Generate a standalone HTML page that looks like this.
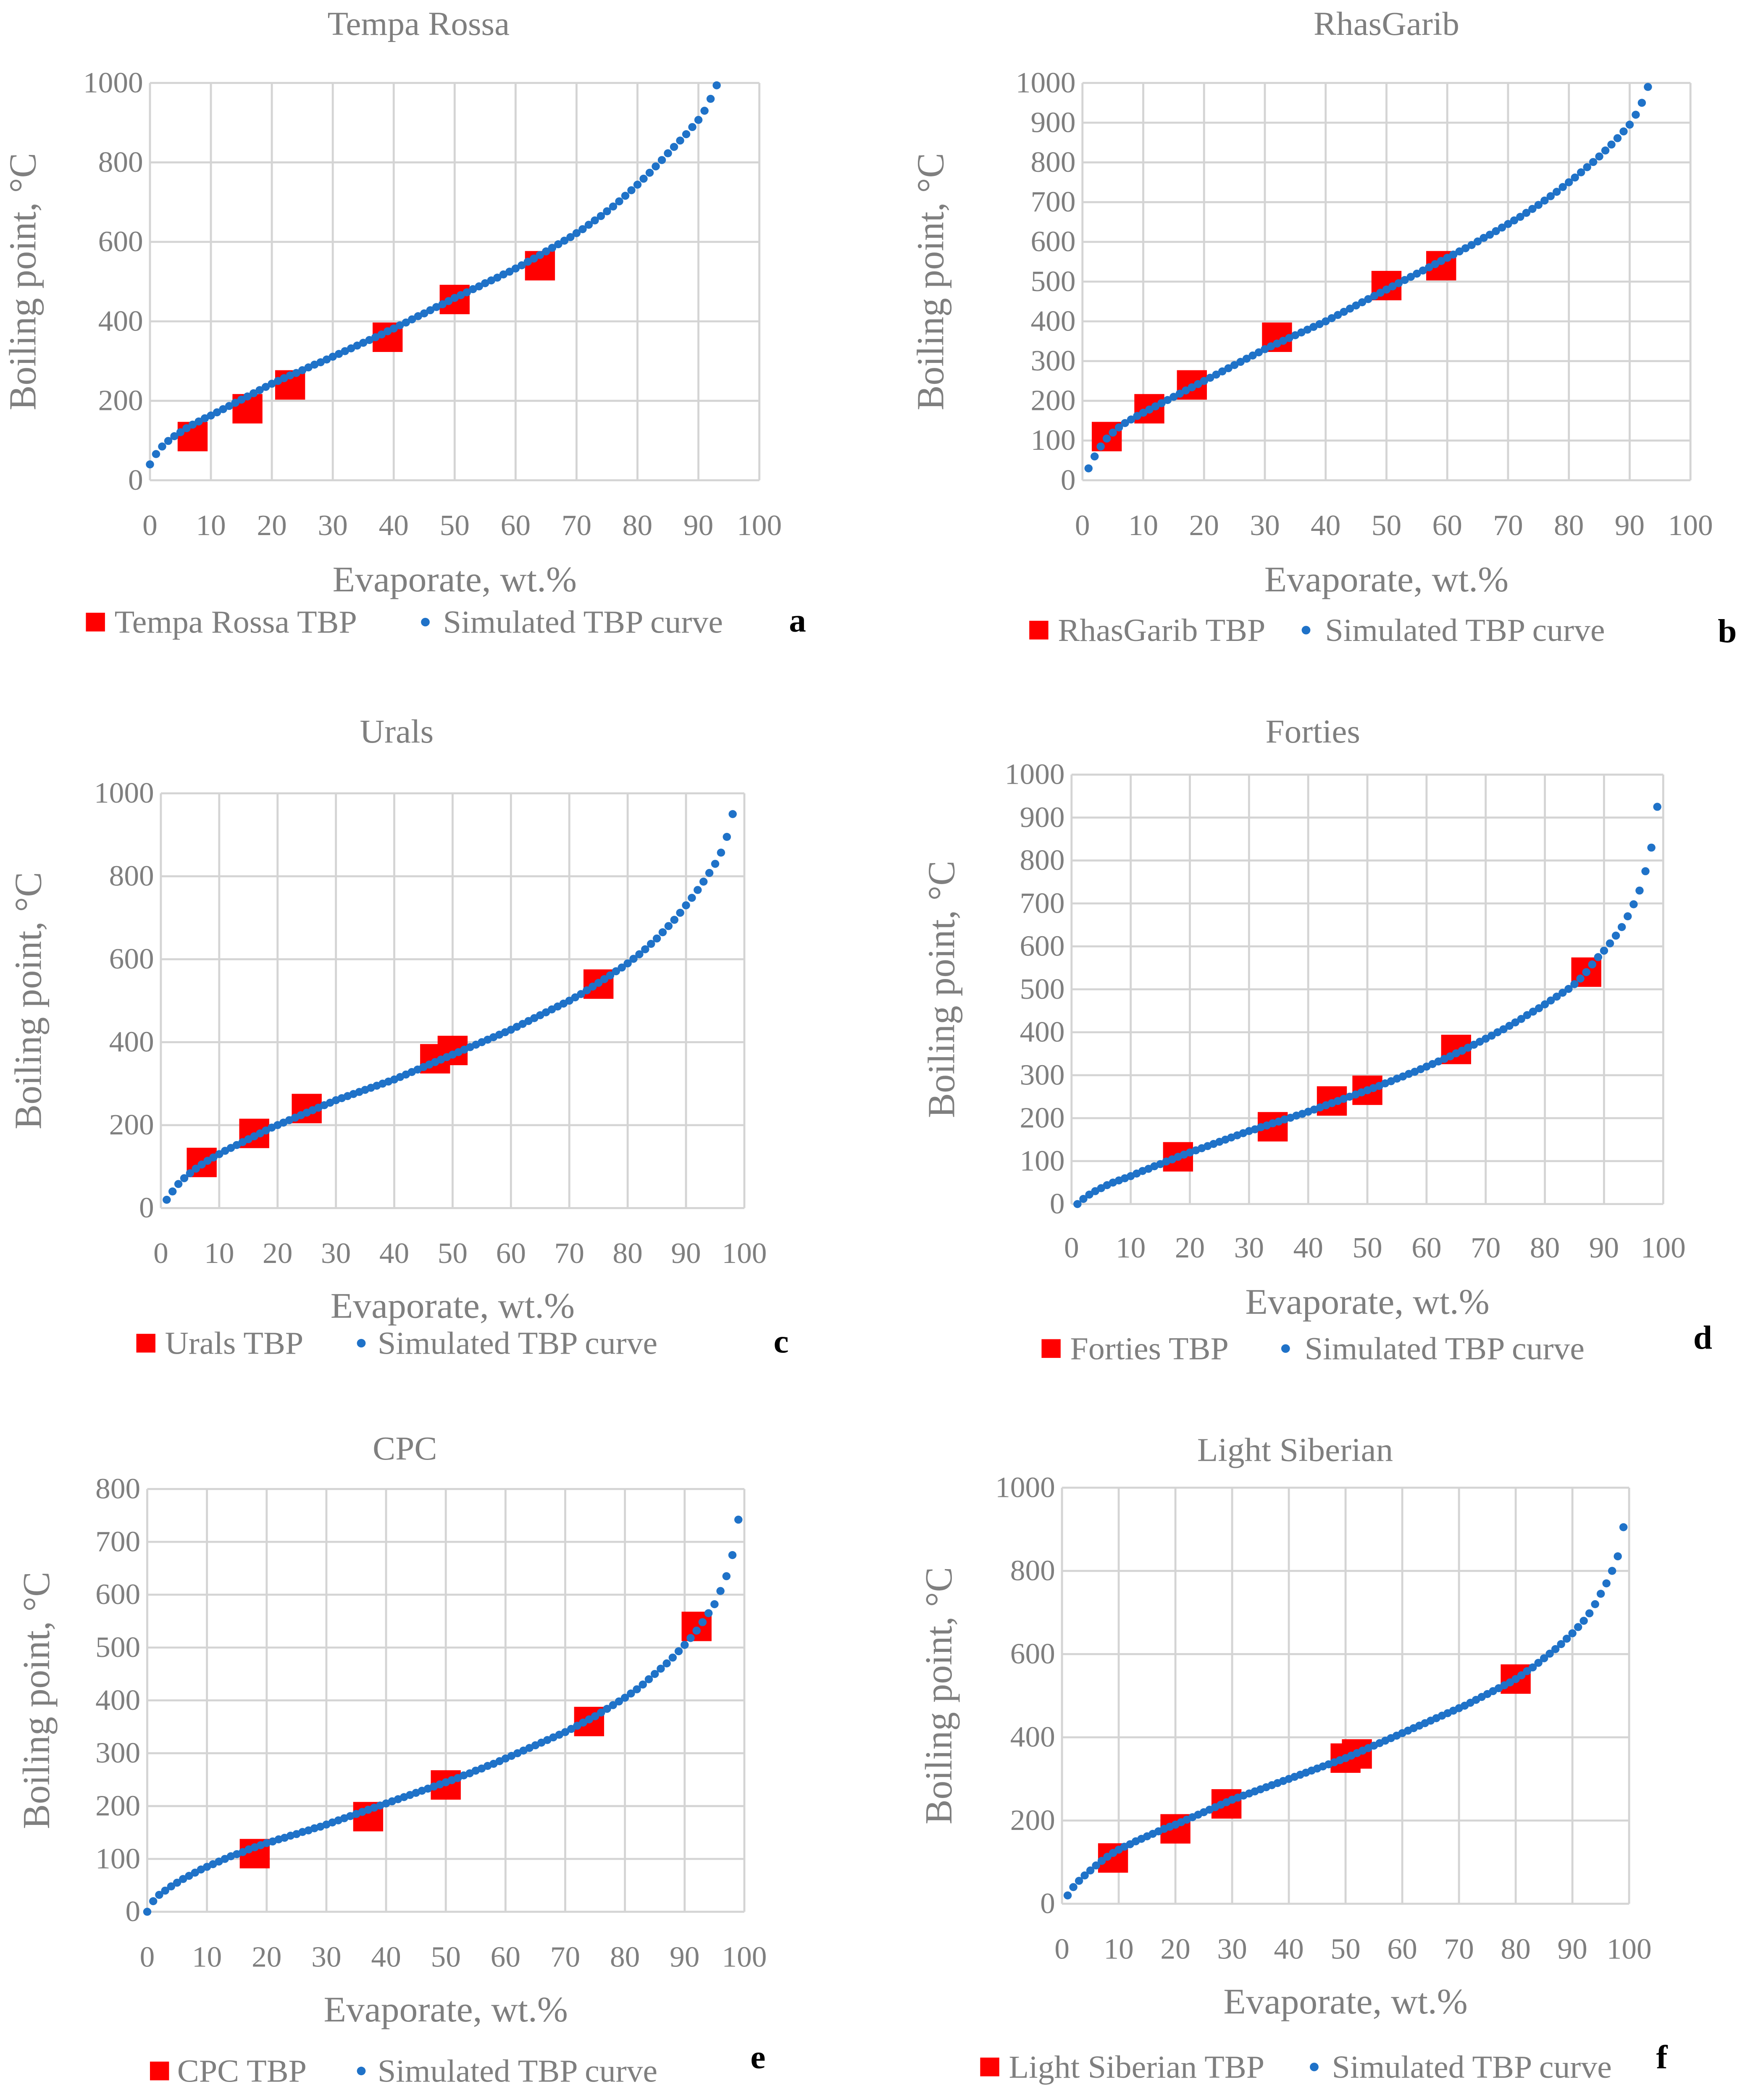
<!DOCTYPE html>
<html><head><meta charset="utf-8"><title>TBP curves</title>
<style>
html,body{margin:0;padding:0;background:#fff;width:100%;height:100%;overflow:hidden;}
svg{display:block;position:fixed;left:0;top:0;width:100vw;height:100vh;}
text{font-family:"Liberation Serif",serif;fill:#7f7f7f;}
</style></head>
<body>
<svg id="fig" xmlns="http://www.w3.org/2000/svg" viewBox="0 0 1280 1569.7" preserveAspectRatio="none"></svg>
<script>
// ---- data ----
const aTbpX=[7,16,23,39,50,64];
const aTbpY=[110,180,240,360,455,540];
const aSimX0=0;
const aSimY=[40,66,85,99,111,121,131,140,148,156,163,171,179,187,195,203,211,219,227,235,243,250,257,264,270,277,284,291,297,304,311,318,325,332,339,346,353,360,367,375,382,390,397,405,413,420,428,436,443,451,459,466,473,481,488,496,503,510,518,525,533,541,550,558,567,576,585,594,603,612,622,632,643,654,665,677,689,702,716,730,744,759,774,790,806,823,839,855,871,889,907,930,960,994];

const bTbpX=[4,11,18,32,50,59];
const bTbpY=[110,180,240,360,490,540];
const bSimX0=1;
const bSimY=[30,60,85,105,120,133,144,153,162,170,178,186,194,202,210,218,226,234,242,250,258,266,274,282,290,298,306,314,322,330,337,344,351,358,365,372,379,386,393,400,408,416,424,432,440,448,456,464,472,480,488,496,504,512,520,528,536,544,552,560,568,576,584,592,601,610,618,627,636,645,654,663,673,683,693,704,715,726,738,750,762,775,788,801,815,830,845,861,878,895,920,950,990];

const cTbpX=[7,16,25,47,50,75];
const cTbpY=[110,180,240,360,380,540];
const cSimX0=1;
const cSimY=[20,40,58,72,84,95,105,114,122,130,138,145,152,159,166,173,180,187,194,200,206,212,218,224,230,236,242,248,254,260,265,270,275,280,285,290,295,300,305,310,316,322,328,334,340,346,352,358,364,370,376,382,388,394,400,406,412,418,424,430,437,444,451,458,465,472,479,486,493,500,508,516,525,534,543,552,561,571,580,590,601,612,624,637,650,665,680,695,712,730,748,767,787,808,830,857,895,950];

const dTbpX=[18,34,44,50,65,87];
const dTbpY=[110,180,240,265,360,540];
const dSimX0=1;
const dSimY=[0,12,22,30,37,44,50,55,60,65,71,77,82,88,93,99,104,110,115,120,125,130,135,140,145,150,155,160,165,170,174,179,183,188,192,197,201,206,210,215,220,225,230,235,240,245,250,255,260,265,270,275,281,286,292,297,303,308,314,320,326,332,338,344,351,357,364,371,378,385,392,400,407,415,423,431,440,448,456,465,474,483,492,501,512,525,540,558,575,590,607,625,645,670,698,730,775,830,925];

const eTbpX=[18,37,50,74,92];
const eTbpY=[110,180,240,360,540];
const eSimX0=0;
const eSimY=[0,20,32,40,48,55,62,68,74,80,85,90,95,100,105,109,113,118,122,126,130,133,137,140,144,147,151,154,158,161,165,169,173,177,181,185,189,193,197,201,205,209,213,217,221,225,229,233,237,241,245,249,253,258,262,267,271,276,280,285,290,295,300,305,310,315,320,325,330,335,340,346,352,358,364,370,377,384,391,398,405,413,421,430,440,450,460,470,481,493,505,518,532,548,565,582,607,635,675,742];

const fTbpX=[9,20,29,50,52,80];
const fTbpY=[110,180,240,350,360,540];
const fSimX0=1;
const fSimY=[20,40,55,68,80,92,103,113,122,130,137,143,150,156,162,168,174,180,185,190,196,202,208,214,220,226,232,238,244,250,255,260,265,270,275,280,285,290,295,300,305,310,315,320,325,330,335,340,345,350,356,362,368,374,380,386,392,398,404,410,416,422,428,434,440,446,452,458,464,470,476,483,490,497,504,511,518,525,532,540,549,559,568,579,590,601,612,624,637,650,665,680,698,720,745,770,800,835,905];

const xTicks=[0,10,20,30,40,50,60,70,80,90,100];
const yTicks1000by200=[0,200,400,600,800,1000];
const yTicks1000by100=[0,100,200,300,400,500,600,700,800,900,1000];
const yTicks800by100=[0,100,200,300,400,500,600,700,800];

// ---- layout (overview units) ----
const panels=[
 {id:'a',title:'Tempa Rossa',tx:aTbpX,ty:aTbpY,sx0:aSimX0,sy:aSimY,yt:yTicks1000by200,ymax:1000,x0:110,x1:557,yTop:62,yBot:359,titleX:307,titleY:26,ytX:26,xlabY:400,xtY:442,legY:466,sqX:70,sqTxt:84,dotX:312,dotTxt:325,legName:'Tempa Rossa TBP',letX:585,letY:472},
 {id:'b',title:'RhasGarib',tx:bTbpX,ty:bTbpY,sx0:bSimX0,sy:bSimY,yt:yTicks1000by100,ymax:1000,x0:794,x1:1240,yTop:62,yBot:359,titleX:1017,titleY:26,ytX:692,xlabY:400,xtY:442,legY:472,sqX:762,sqTxt:776,dotX:958,dotTxt:972,legName:'RhasGarib TBP',letX:1267,letY:480},
 {id:'c',title:'Urals',tx:cTbpX,ty:cTbpY,sx0:cSimX0,sy:cSimY,yt:yTicks1000by200,ymax:1000,x0:118,x1:546,yTop:593,yBot:903,titleX:291,titleY:555,ytX:30,xlabY:944,xtY:985,legY:1005,sqX:107,sqTxt:121,dotX:265,dotTxt:277,legName:'Urals TBP',letX:573,letY:1011},
 {id:'d',title:'Forties',tx:dTbpX,ty:dTbpY,sx0:dSimX0,sy:dSimY,yt:yTicks1000by100,ymax:1000,x0:786,x1:1220,yTop:579,yBot:900,titleX:963,titleY:555,ytX:700,xlabY:940,xtY:982,legY:1009,sqX:771,sqTxt:785,dotX:943,dotTxt:957,legName:'Forties TBP',letX:1249,letY:1008},
 {id:'e',title:'CPC',tx:eTbpX,ty:eTbpY,sx0:eSimX0,sy:eSimY,yt:yTicks800by100,ymax:800,x0:108,x1:546,yTop:1113,yBot:1429,titleX:297,titleY:1091,ytX:36,xlabY:1470,xtY:1511,legY:1549,sqX:117,sqTxt:130,dotX:265,dotTxt:277,legName:'CPC TBP',letX:556,letY:1546},
 {id:'f',title:'Light Siberian',tx:fTbpX,ty:fTbpY,sx0:fSimX0,sy:fSimY,yt:yTicks1000by200,ymax:1000,x0:779,x1:1195,yTop:1112,yBot:1423,titleX:950,titleY:1092,ytX:698,xlabY:1464,xtY:1505,legY:1546,sqX:726,sqTxt:740,dotX:964,dotTxt:977,legName:'Light Siberian TBP',letX:1219,letY:1546}
];

const NS='http://www.w3.org/2000/svg';
const svg=document.getElementById('fig');
function mk(tag,attrs,parent){const e=document.createElementNS(NS,tag);for(const k in attrs)e.setAttribute(k,attrs[k]);(parent||svg).appendChild(e);return e;}

panels.forEach(p=>{
  const g=mk('g',{});
  
  
  const xs=v=>p.x0+(v/100)*(p.x1-p.x0);
  const ys=v=>p.yBot-(v/p.ymax)*(p.yBot-p.yTop);
  const t=mk('text',{x:p.titleX,y:p.titleY,'font-size':25,'text-anchor':'middle'},g);t.textContent=p.title;
  
  
  const grid=mk('g',{stroke:'#d4d4d4','stroke-width':1.5},g);
  
  
  xTicks.forEach(v=>{mk('line',{x1:xs(v),x2:xs(v),y1:p.yTop,y2:p.yBot},grid);});
  p.yt.forEach(v=>{mk('line',{x1:p.x0,x2:p.x1,y1:ys(v),y2:ys(v)},grid);});
  p.yt.forEach(v=>{const l=mk('text',{x:p.x0-5,y:ys(v)+7,'font-size':22,'text-anchor':'end'},g);l.textContent=v;
    
    });
  xTicks.forEach(v=>{const l=mk('text',{x:xs(v),y:p.xlabY,'font-size':22,'text-anchor':'middle'},g);l.textContent=v;
    
    });
  const xt=mk('text',{x:(p.x0+p.x1)/2,y:p.xtY,'font-size':27,'text-anchor':'middle'},g);xt.textContent='Evaporate, wt.%';
  
  
  const yc=(p.yTop+p.yBot)/2;
  const yt=mk('text',{x:p.ytX,y:yc,'font-size':28,'text-anchor':'middle',transform:'rotate(-90 '+p.ytX+' '+yc+')'},g);yt.textContent='Boiling point, °C';
  
  
  p.tx.forEach((x,i)=>{const s=mk('rect',{x:xs(x)-11,y:ys(p.ty[i])-11,width:22,height:22,fill:'#ff0000'},g);
    
    });
  p.sy.forEach((y,i)=>{const c=mk('circle',{cx:xs(p.sx0+i),cy:ys(y),r:3,fill:'#1f72c8'},g);
    
    });
  const lg=mk('g',{},g);
  
  
  mk('rect',{x:p.sqX-7,y:p.legY-8,width:14,height:14,fill:'#ff0000'},lg);
  const l1=mk('text',{x:p.sqTxt,y:p.legY+7,'font-size':24},lg);l1.textContent=p.legName;
  
  
  mk('circle',{cx:p.dotX,cy:p.legY-1,r:3.2,fill:'#1f72c8'},lg);
  const l2=mk('text',{x:p.dotTxt,y:p.legY+7,'font-size':24},lg);l2.textContent='Simulated TBP curve';
  
  
  const let_=mk('text',{x:p.letX,y:p.letY,'font-size':25,'font-weight':'bold','text-anchor':'middle',style:'fill:#000'},g);let_.textContent=p.id;
  
  
});
</script>
</body></html>
